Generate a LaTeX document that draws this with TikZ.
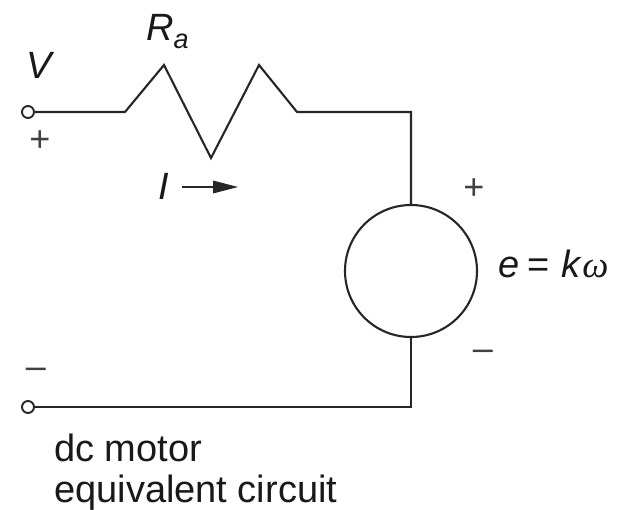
\documentclass[tikz,border=0pt]{standalone}
\usepackage{fontspec}
\setmainfont{Liberation Sans}
\newfontfamily\serifsym{Liberation Serif}
\tikzset{
  wire/.style={draw=black!85,line width=2.1pt,line join=miter},
  term/.style={circle,draw=black!85,line width=1.9pt,minimum size=12pt,inner sep=0pt,fill=white},
  lab/.style={inner sep=0pt,font=\fontsize{38}{43}\selectfont,text=black!90},
  sym/.style={inner sep=0pt,font=\fontsize{36}{40}\selectfont,text=black!75}
}
\begin{document}
\begin{tikzpicture}[x=1pt,y=-1pt]
\useasboundingbox[fill=white] (0,0) rectangle (621,509);
\node[term] (t1) at (28,112) {};
\node[term] (t2) at (28,407) {};
\node[circle,draw=black!85,line width=2.1pt,minimum size=132pt,inner sep=0pt] (src) at (411,271) {};
\coordinate (r0) at (125,112);
\coordinate (c1) at (411,112);
\coordinate (c2) at (411,407);
\draw[wire] (t1) -- (r0) -- (164,65) -- (211,158) -- (259,65) -- (297,112) -- (c1) -- (src.north);
\draw[wire] (src.south) -- (c2) -- (t2);
\coordinate (a0) at (182,187);
\coordinate (a1) at (238,187);
\draw[line width=2pt,draw=black!85] (a0) -- (218,187);
\fill[black!85] (a1) -- (213,180.5) -- (213,193.5) -- cycle;
\node[lab,anchor=base west] (ra) at (146,40) {\textit{R}\raisebox{-0.22em}{\fontsize{27}{30}\selectfont\textit{a}}};
\node[lab,anchor=base west] (v) at (26,78) {\textit{V}};
\node[lab,anchor=base west] (i) at (158,199) {\textit{I}};
\node[sym] (p1) at (40,141) {+};
\node[sym] (p2) at (474,189) {+};
\node[sym] (m1) at (36,373) {–};
\node[sym] (m2) at (483,355) {–};
\node[lab,anchor=base west] (e) at (498,277) {\textit{e}\hspace{-0.05em} = \hspace{0.03em}\textit{k}{\serifsym\fontsize{37}{40}\selectfont\textit{ω}}};
\node[lab,anchor=base west] (d1) at (54,461) {dc motor};
\node[lab,anchor=base west] (d2) at (54,502) {equivalent circuit};
\end{tikzpicture}
\end{document}
